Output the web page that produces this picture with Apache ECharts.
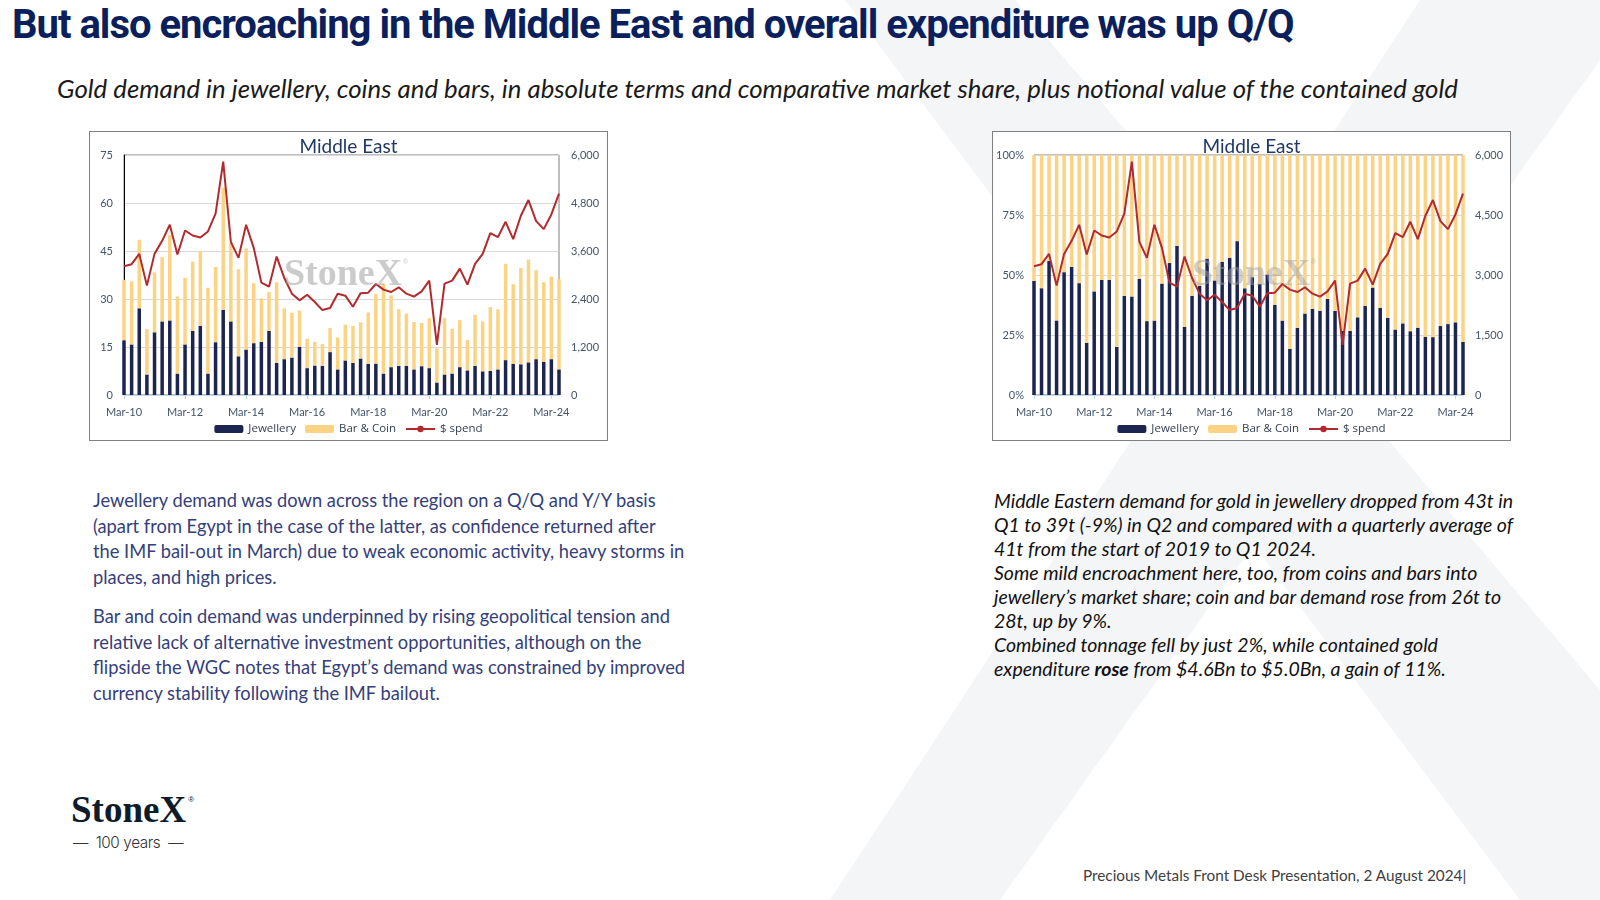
<!DOCTYPE html>
<html>
<head>
<meta charset="utf-8">
<title>Middle East gold demand</title>
<script src="https://cdn.jsdelivr.net/npm/echarts@6/dist/echarts.min.js"></script>
<style>
  html, body { margin: 0; padding: 0; }
  body { width: 1600px; height: 900px; position: relative; overflow: hidden; background: #fff; font-family: Lato, "Noto Sans", sans-serif; }
  #bg { position: absolute; left: 0; top: 0; }
  .headline { position: absolute; left: 12px; top: 5px; font-family: Roboto, "Liberation Sans", sans-serif; font-weight: bold; font-size: 40px; line-height: 40px; color: #0b1f5c; white-space: nowrap; letter-spacing: -1px; }
  .sub { position: absolute; left: 57px; top: 72px; font-style: italic; font-size: 25.8px; line-height: 32px; color: #1a1a1a; white-space: nowrap; }
  .box { position: absolute; border: 1px solid #7f7f7f; box-sizing: border-box; width: 519px; height: 310px; top: 131px; background: #fff; }
  .box > div { position: absolute; left: 0; top: 0; width: 517px; height: 308px; }
  #boxL { left: 89px; }
  #boxR { left: 992px; }
  .txtL { position: absolute; left: 93px; top: 488px; font-size: 18.3px; line-height: 25.5px; color: #34407a; white-space: nowrap; }
  .txtL p { margin: 0 0 14px 0; }
  .txtR { position: absolute; left: 994px; top: 489px; font-size: 19.5px; line-height: 24px; font-style: italic; color: #111; white-space: nowrap; }
  .logo { position: absolute; left: 71px; top: 789px; font-family: "Liberation Serif", serif; font-weight: bold; font-size: 37px; line-height: 42px; color: #0d1b2a; }
  .logo sup { position: absolute; right: -8px; top: 7px; font-size: 8px; line-height: 8px; font-family: "Liberation Sans", sans-serif; font-weight: normal; }
  .years { position: absolute; left: 73px; top: 833px; font-family: Inter, sans-serif; font-weight: 300; font-size: 15.3px; line-height: 20px; color: #333; letter-spacing: -0.4px; white-space: pre; }
  .foot { position: absolute; left: 1083px; top: 865px; font-size: 15.3px; line-height: 20px; color: #404040; white-space: nowrap; }
</style>
</head>
<body>
<svg id="bg" width="1600" height="900">
  <polygon points="845,0 1015,0 1600,690 1600,900 1520,900" fill="#f4f5f7"/>
  <polygon points="1420,0 1600,0 1600,60 1000,900 830,900" fill="#f4f5f7"/>
</svg>

<div class="headline">But also encroaching in the Middle East and overall expenditure was up Q/Q</div>
<div class="sub">Gold demand in jewellery, coins and bars, in absolute terms and comparative market share, plus notional value of the contained gold</div>

<div class="box" id="boxL"><div id="chartL"></div></div>
<div class="box" id="boxR"><div id="chartR"></div></div>

<div class="txtL">
  <p>Jewellery demand was down across the region on a Q/Q and Y/Y basis<br>(apart from Egypt in the case of the latter, as confidence returned after<br>the IMF bail-out in March) due to weak economic activity, heavy storms in<br>places, and high prices.</p>
  <p>Bar and coin demand was underpinned by rising geopolitical tension and<br>relative lack of alternative investment opportunities, although on the<br>flipside the WGC notes that Egypt’s demand was constrained by improved<br>currency stability following the IMF bailout.</p>
</div>

<div class="txtR">
  Middle Eastern demand for gold in jewellery dropped from 43t in<br>
  Q1 to 39t (-9%) in Q2 and compared with a quarterly average of<br>
  41t from the start of 2019 to Q1 2024.<br>
  Some mild encroachment here, too, from coins and bars into<br>
  jewellery’s market share; coin and bar demand rose from 26t to<br>
  28t, up by 9%.<br>
  Combined tonnage fell by just 2%, while contained gold<br>
  expenditure <b>rose</b> from $4.6Bn to $5.0Bn, a gain of 11%.
</div>

<div class="logo">StoneX<sup>®</sup></div>
<div class="years">—  100 years  —</div>
<div class="foot">Precious Metals Front Desk Presentation, 2 August 2024|</div>

<script>
// quarterly, Mar-10 .. Jun-24
const quarters = [];
for (let y = 10; y <= 24; y++) {
  for (const m of ["Mar", "Jun", "Sep", "Dec"]) quarters.push(m + "-" + y);
}
quarters.length = 58;

// tonnes
const jewellery = [
  17.1, 15.8, 27.1, 6.4, 19.6, 23.0, 23.3, 6.7, 15.8, 20.0,
  21.6, 6.7, 16.5, 26.6, 23.0, 12.1, 14.2, 16.2, 16.6, 20.0,
  10.0, 11.2, 11.7, 15.0, 8.4, 9.2, 9.1, 13.4, 8.0, 10.8,
  10.0, 11.4, 9.7, 9.8, 6.7, 8.7, 9.1, 9.1, 8.0, 9.0,
  8.4, 3.9, 6.4, 6.7, 8.7, 7.7, 9.1, 7.4, 7.5, 8.0,
  10.9, 9.7, 9.6, 10.2, 11.2, 10.4, 11.2, 8.0
];
const barCoin = [
  18.9, 19.7, 21.4, 14.2, 18.7, 20.1, 26.7, 24.1, 20.8, 21.7,
  23.4, 26.8, 23.5, 38.2, 24.5, 27.2, 31.6, 18.7, 13.6, 12.2,
  25.2, 15.9, 14.0, 11.4, 9.2, 7.4, 6.8, 7.5, 10.0, 11.2,
  11.6, 11.3, 16.1, 21.8, 28.1, 22.4, 17.7, 16.3, 14.8, 13.5,
  15.6, 10.7, 17.6, 14.0, 14.7, 9.5, 16.0, 15.6, 20.0, 18.8,
  30.1, 24.9, 30.1, 32.1, 27.8, 24.8, 25.8, 28.2
];
// $ spend, US$ m
const spend = [
  3218, 3270, 3528, 2734, 3528, 3854, 4255, 3512, 4113, 3988,
  3938, 4088, 4532, 5835, 3829, 3428, 4255, 3679, 2809, 2709,
  3461, 2926, 2533, 2366, 2508, 2324, 2123, 2173, 2533, 2483,
  2207, 2542, 2558, 2775, 2634, 2575, 2692, 2533, 2458, 2592,
  2859, 1254, 2784, 2859, 3160, 2759, 3277, 3528, 4046, 3946,
  4330, 3896, 4481, 4874, 4347, 4146, 4514, 5033
];

const NAVY = "#1b2550", GOLD = "#fcd283", RED = "#b22a2e", AXIS = "#44546a";

const jewShare = jewellery.map((j, i) => +(j / (j + barCoin[i]) * 100).toFixed(2));
const barShare = jewShare.map(s => +(100 - s).toFixed(2));

function baseOption(gridLeft, gridRight) {
  return {
    animation: false,
    title: {
      text: "Middle East", left: "center", top: 0,
      textStyle: { fontFamily: "Lato", fontSize: 19, fontWeight: "normal", color: "#1f3864" }
    },
    grid: {
      left: gridLeft, right: gridRight, top: 23, bottom: 45,
      show: true, borderColor: "#7f7f7f", borderWidth: 1
    },
    legend: {
      top: 286, left: "center", itemWidth: 29, itemHeight: 8, itemGap: 9,
      textStyle: { fontFamily: "Open Sans", fontSize: 11.5, color: "#333f50" },
      data: ["Jewellery", "Bar & Coin", "$ spend"]
    },
    xAxis: {
      type: "category", data: quarters, boundaryGap: false,
      axisLine: { lineStyle: { color: "#bdd7ee" } },
      axisTick: { interval: 7, length: 4, lineStyle: { color: "#bdd7ee" } },
      axisLabel: { interval: 7, color: AXIS, fontFamily: "Lato", fontSize: 11, margin: 12 },
      splitLine: { show: false }
    }
  };
}

function yLabel(margin) {
  return { color: AXIS, fontFamily: "Lato", fontSize: 11, margin: margin };
}
const thousands = v => v.toLocaleString("en-US");

// left: absolute tonnes
const left = echarts.init(document.getElementById("chartL"));
const optL = baseOption(34, 48);
optL.yAxis = [
  {
    type: "value", min: 0, max: 75, interval: 15,
    axisLine: { show: true, lineStyle: { color: "#000" } },
    axisTick: { show: false },
    splitLine: { lineStyle: { color: "#d9d9d9" } },
    axisLabel: yLabel(11)
  },
  {
    type: "value", min: 0, max: 6000, interval: 1200, position: "right",
    axisLine: { show: false }, axisTick: { show: false }, splitLine: { show: false },
    axisLabel: Object.assign(yLabel(12), { formatter: thousands })
  }
];
optL.series = [
  { name: "Jewellery", type: "bar", stack: "t", data: jewellery, barWidth: 3.5, clip: false, itemStyle: { color: NAVY } },
  { name: "Bar & Coin", type: "bar", stack: "t", data: barCoin, barWidth: 3.5, clip: false, itemStyle: { color: GOLD } },
  { name: "$ spend", type: "line", yAxisIndex: 1, data: spend, symbol: "none", lineStyle: { color: RED, width: 2 }, itemStyle: { color: RED }, z: 4 }
];
optL.graphic = [
  { type: "text", x: 253, y: 143, z: 10, style: { text: "StoneX", font: "bold 38px 'Liberation Serif'", fill: "rgba(160,160,160,0.55)", align: "center", verticalAlign: "middle" } },
  { type: "text", x: 313, y: 127, z: 10, style: { text: "®", font: "7px 'Liberation Sans'", fill: "rgba(160,160,160,0.55)" } }
];
left.setOption(optL);

// right: market share
const right = echarts.init(document.getElementById("chartR"));
const optR = baseOption(41, 47);
optR.yAxis = [
  {
    type: "value", min: 0, max: 100, interval: 25,
    axisLine: { show: false }, axisTick: { show: false },
    splitLine: { lineStyle: { color: "#d9d9d9" } },
    axisLabel: Object.assign(yLabel(10), { formatter: "{value}%" })
  },
  {
    type: "value", min: 0, max: 6000, interval: 1500, position: "right",
    axisLine: { show: false }, axisTick: { show: false }, splitLine: { show: false },
    axisLabel: Object.assign(yLabel(12), { formatter: thousands })
  }
];
optR.series = [
  { name: "Jewellery", type: "bar", stack: "s", data: jewShare, barWidth: 3.5, clip: false, itemStyle: { color: NAVY } },
  { name: "Bar & Coin", type: "bar", stack: "s", data: barShare, barWidth: 3.5, clip: false, itemStyle: { color: GOLD } },
  { name: "$ spend", type: "line", yAxisIndex: 1, data: spend, symbol: "none", lineStyle: { color: RED, width: 2 }, itemStyle: { color: RED }, z: 4 }
];
optR.graphic = [
  { type: "text", x: 258, y: 143, z: 10, style: { text: "StoneX", font: "bold 38px 'Liberation Serif'", fill: "rgba(160,160,160,0.5)", align: "center", verticalAlign: "middle" } },
  { type: "text", x: 318, y: 127, z: 10, style: { text: "®", font: "7px 'Liberation Sans'", fill: "rgba(160,160,160,0.5)" } }
];
right.setOption(optR);
</script>
</body>
</html>
